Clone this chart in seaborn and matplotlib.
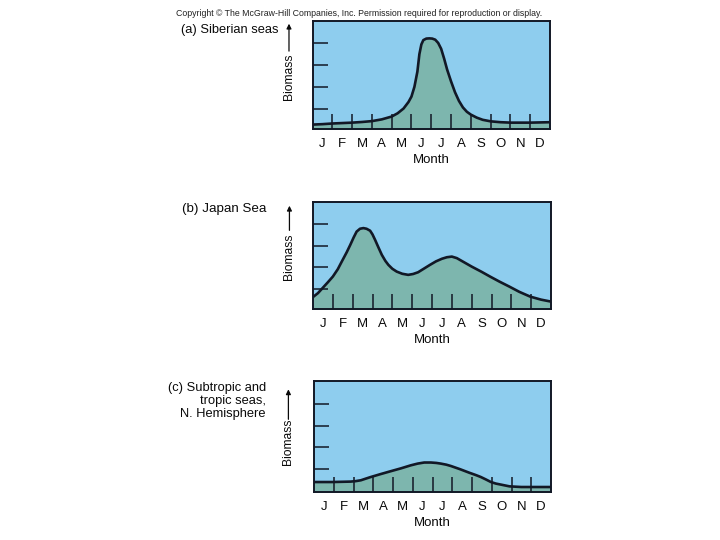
import matplotlib
matplotlib.use("Agg")
import matplotlib.pyplot as plt
import seaborn as sns
import pandas as pd

sns.set_theme(style="white")
plt.rcParams['font.family'] = ['Liberation Sans', 'DejaVu Sans']

# ---- data ----
months = ["J", "F", "M", "A", "M", "J", "J", "A", "S", "O", "N", "D"]

siberian_x = [0, 0.5, 1, 1.5, 2, 2.5, 3, 3.5, 4, 4.3, 4.6, 4.85, 5.0, 5.15, 5.3, 5.4,
              5.5, 5.6, 5.75, 5.9, 6.05, 6.2, 6.35, 6.5, 6.65, 6.8, 7.0, 7.2, 7.4,
              7.6, 7.8, 8.0, 8.3, 8.6, 9.0, 9.5, 10, 11, 12]
siberian_y = [0.26, 0.28, 0.31, 0.33, 0.35, 0.38, 0.42, 0.50, 0.63, 0.78, 1.00, 1.30,
              1.55, 2.00, 2.70, 3.50, 3.95, 4.15, 4.22, 4.23, 4.22, 4.17, 4.02, 3.75,
              3.30, 2.80, 2.25, 1.75, 1.35, 1.05, 0.85, 0.72, 0.58, 0.48, 0.41, 0.37,
              0.35, 0.35, 0.37]

japan_x = [0, 0.25, 0.5, 0.75, 1.0, 1.25, 1.45, 1.7, 1.88, 2.05, 2.2, 2.37, 2.54, 2.7,
           2.88, 3.0, 3.13, 3.3, 3.47, 3.65, 3.8, 4.0, 4.22, 4.5, 4.8, 5.05, 5.3, 5.6,
           5.9, 6.2, 6.5, 6.75, 7.0, 7.25, 7.5, 8.0, 8.5, 8.93, 9.4, 9.9, 10.4, 10.95,
           11.5, 12]
japan_y = [0.64, 0.82, 1.07, 1.32, 1.58, 1.92, 2.27, 2.70, 3.04, 3.38, 3.65, 3.78, 3.81,
           3.78, 3.69, 3.52, 3.27, 2.92, 2.58, 2.30, 2.12, 1.94, 1.81, 1.71, 1.66, 1.70,
           1.78, 1.95, 2.12, 2.28, 2.40, 2.47, 2.50, 2.43, 2.30, 2.04, 1.80, 1.58, 1.35,
           1.12, 0.88, 0.66, 0.52, 0.43]

tropic_x = [0, 0.93, 1.86, 2.1, 2.37, 2.6, 2.87, 3.35, 3.85, 4.4, 4.9, 5.25, 5.58, 5.92,
            6.2, 6.42, 6.7, 6.93, 7.4, 7.86, 8.2, 8.45, 8.7, 8.96, 9.2, 9.47, 9.9, 10.5,
            11.2, 12]
tropic_y = [0.40, 0.40, 0.42, 0.44, 0.48, 0.55, 0.63, 0.76, 0.89, 1.03, 1.17, 1.25, 1.30,
            1.30, 1.28, 1.25, 1.20, 1.14, 0.99, 0.83, 0.72, 0.63, 0.52, 0.40, 0.33, 0.28,
            0.20, 0.17, 0.17, 0.17]

panels = [
    dict(x=siberian_x, y=siberian_y, title="(a) Siberian seas"),
    dict(x=japan_x, y=japan_y, title="(b) Japan Sea"),
    dict(x=tropic_x, y=tropic_y, title="(c) Subtropic and\ntropic seas,\nN. Hemisphere"),
]

# ---- styling / layout ----
sky = "#8ECDEE"
fill = "#7DB6AE"
ink = "#121826"
txt = "#0a0a0a"

rects = [
    [312.5 / 720, 1 - 128.5 / 540, 237.5 / 720, 107.5 / 540],
    [313.0 / 720, 1 - 309.0 / 540, 238.0 / 720, 107.0 / 540],
    [314.0 / 720, 1 - 492.0 / 540, 237.0 / 720, 111.0 / 540],
]
ylims = [(0.08, 5.03), (0.09, 5.01), (-0.06, 5.06)]
label_pos = [  # (text centre frac, arrow bottom frac, arrow top frac, x frac)
    (0.484, 0.72, 0.975, -0.099),
    (0.49, 0.735, 0.965, -0.099),
    (0.453, 0.655, 0.925, -0.108),
]

fig = plt.figure(figsize=(7.2, 5.4), dpi=100)
fig.patch.set_facecolor("white")

fig.text(176 / 720, 1 - 13 / 540,
         "Copyright \u00a9 The McGraw-Hill Companies, Inc. Permission required for reproduction or display.",
         fontsize=6.3, color="#222222", ha="left", va="center")

for i, p in enumerate(panels):
    ax = fig.add_axes(rects[i])
    ax.set_axisbelow(False)
    ax.set_facecolor(sky)
    df = pd.DataFrame({"month": p["x"], "biomass": p["y"]})
    ax.fill_between(df["month"], df["biomass"], ylims[i][0] - 1, color=fill, lw=0, zorder=1)
    sns.lineplot(data=df, x="month", y="biomass", ax=ax, color=ink, lw=1.9,
                 estimator=None, sort=False, zorder=2)
    ax.set_xlim(0, 12)
    ax.set_ylim(*ylims[i])
    ax.set_xticks(range(1, 12))
    ax.set_xticklabels([])
    ax.set_xticks([m + 0.5 for m in range(12)], minor=True)
    ax.set_xticklabels(months, minor=True, fontsize=9.5, color=txt)
    ax.set_yticks([1, 2, 3, 4])
    ax.set_yticklabels([])
    ax.tick_params(axis="both", which="major", direction="in", length=10.5, width=1.1,
                   color=ink, bottom=True, left=True, top=False, right=False)
    ax.tick_params(axis="x", which="minor", length=0, pad=6.5)
    ax.grid(False)
    for s in ax.spines.values():
        s.set_color(ink)
        s.set_linewidth(1.4)
    ax.set_xlabel("Month", fontsize=9.5, labelpad=3, color=txt)
    ax.set_ylabel("")
    tc, ab, at, xf = label_pos[i]
    ax.text(xf, tc, "Biomass", rotation=90, transform=ax.transAxes, fontsize=8.7,
            ha="center", va="center", color=txt)
    ax.annotate("", xy=(xf, at), xytext=(xf, ab), xycoords="axes fraction",
                textcoords="axes fraction",
                arrowprops=dict(arrowstyle="-|>", lw=0.9, color=txt,
                                mutation_scale=7, shrinkA=0, shrinkB=0))

fig.text(181 / 720, 1 - 30 / 540, panels[0]["title"], fontsize=9.3, ha="left", va="center",
         color=txt)
fig.text(182 / 720, 1 - 209 / 540, panels[1]["title"], fontsize=9.6, ha="left", va="center",
         color=txt)
fig.text(266 / 720, 1 - 401 / 540, panels[2]["title"], fontsize=9.3, ha="right", va="center",
         multialignment="right", linespacing=1.12, color=txt)

fig.savefig("out.png", dpi=100)
